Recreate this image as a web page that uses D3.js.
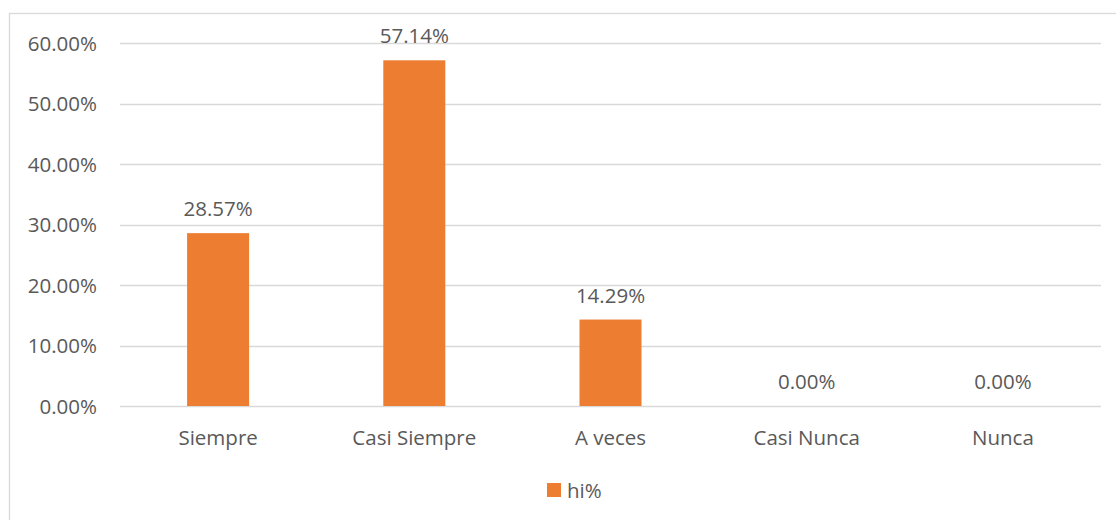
<!DOCTYPE html>
<html>
<head>
<meta charset="utf-8">
<script src="https://cdn.jsdelivr.net/npm/d3@7"></script>
<style>
  html, body { margin: 0; padding: 0; background: #fff; }
  svg text { font-family: "Open Sans", sans-serif; fill: #595959; }
</style>
</head>
<body>
<svg id="chart" width="1116" height="520"></svg>
<script>
// Response categories and their relative frequencies (hi%)
const categories = ["Siempre", "Casi Siempre", "A veces", "Casi Nunca", "Nunca"];
const values = [28.57, 57.14, 14.29, 0.00, 0.00];
const yTicks = [0, 10, 20, 30, 40, 50, 60];
const seriesName = "hi%";

const svg = d3.select("#chart");
const W = 1116, H = 520;
const margin = { left: 120, right: 15, top: 43, bottom: 114 };
const plotW = W - margin.left - margin.right;
const plotH = H - margin.top - margin.bottom;
const barColor = "#ED7D31";
const gridColor = "#d9d9d9";
const fontSize = 20.5;
const font = "'Open Sans', sans-serif";

// Outer chart frame
svg.append("rect")
  .attr("x", 9.5).attr("y", 13.5)
  .attr("width", W).attr("height", H)
  .attr("fill", "none").attr("stroke", gridColor).attr("stroke-width", 1.3);

const x = d3.scaleBand().domain(categories).range([margin.left, margin.left + plotW]).padding(0);
const y = d3.scaleLinear().domain([0, 60]).range([margin.top + plotH, margin.top]);
const barW = x.bandwidth() * 0.316;

// Horizontal gridlines
svg.append("g").selectAll("line").data(yTicks).join("line")
  .attr("x1", margin.left).attr("x2", margin.left + plotW)
  .attr("y1", d => Math.round(y(d)) + 0.5).attr("y2", d => Math.round(y(d)) + 0.5)
  .attr("stroke", gridColor).attr("stroke-width", 1.3);

// Y axis labels
const yAxis = d3.axisLeft(y).tickValues(yTicks).tickSize(0).tickPadding(23)
  .tickFormat(d => d3.format(".2f")(d) + "%");
const gy = svg.append("g").attr("transform", `translate(${margin.left},0)`).call(yAxis);
gy.select(".domain").remove();
gy.selectAll("text").attr("font-size", fontSize).attr("dy", "0.35em")
  .style("font-family", font).style("fill", "#595959");

// Bars
svg.append("g").selectAll("rect").data(values).join("rect")
  .attr("x", (d, i) => x(categories[i]) + x.bandwidth() / 2 - barW / 2)
  .attr("width", barW)
  .attr("y", d => y(d))
  .attr("height", d => y(0) - y(d))
  .attr("fill", barColor);

// Value labels above bars
svg.append("g").selectAll("text").data(values).join("text")
  .attr("x", (d, i) => x(categories[i]) + x.bandwidth() / 2)
  .attr("y", d => y(d) - 17)
  .attr("text-anchor", "middle")
  .attr("font-size", fontSize)
  .text(d => d3.format(".2f")(d) + "%");

// X axis labels
const xAxis = d3.axisBottom(x).tickSize(0).tickPadding(24);
const gx = svg.append("g").attr("transform", `translate(0,${y(0)})`).call(xAxis);
gx.select(".domain").remove();
gx.selectAll("text").attr("font-size", fontSize)
  .style("font-family", font).style("fill", "#595959");

// Legend
const legend = svg.append("g").attr("transform", "translate(547,483)");
legend.append("rect").attr("width", 14).attr("height", 14).attr("fill", barColor);
legend.append("text").attr("x", 20).attr("y", 14.5).attr("font-size", fontSize).text(seriesName);
</script>
</body>
</html>
